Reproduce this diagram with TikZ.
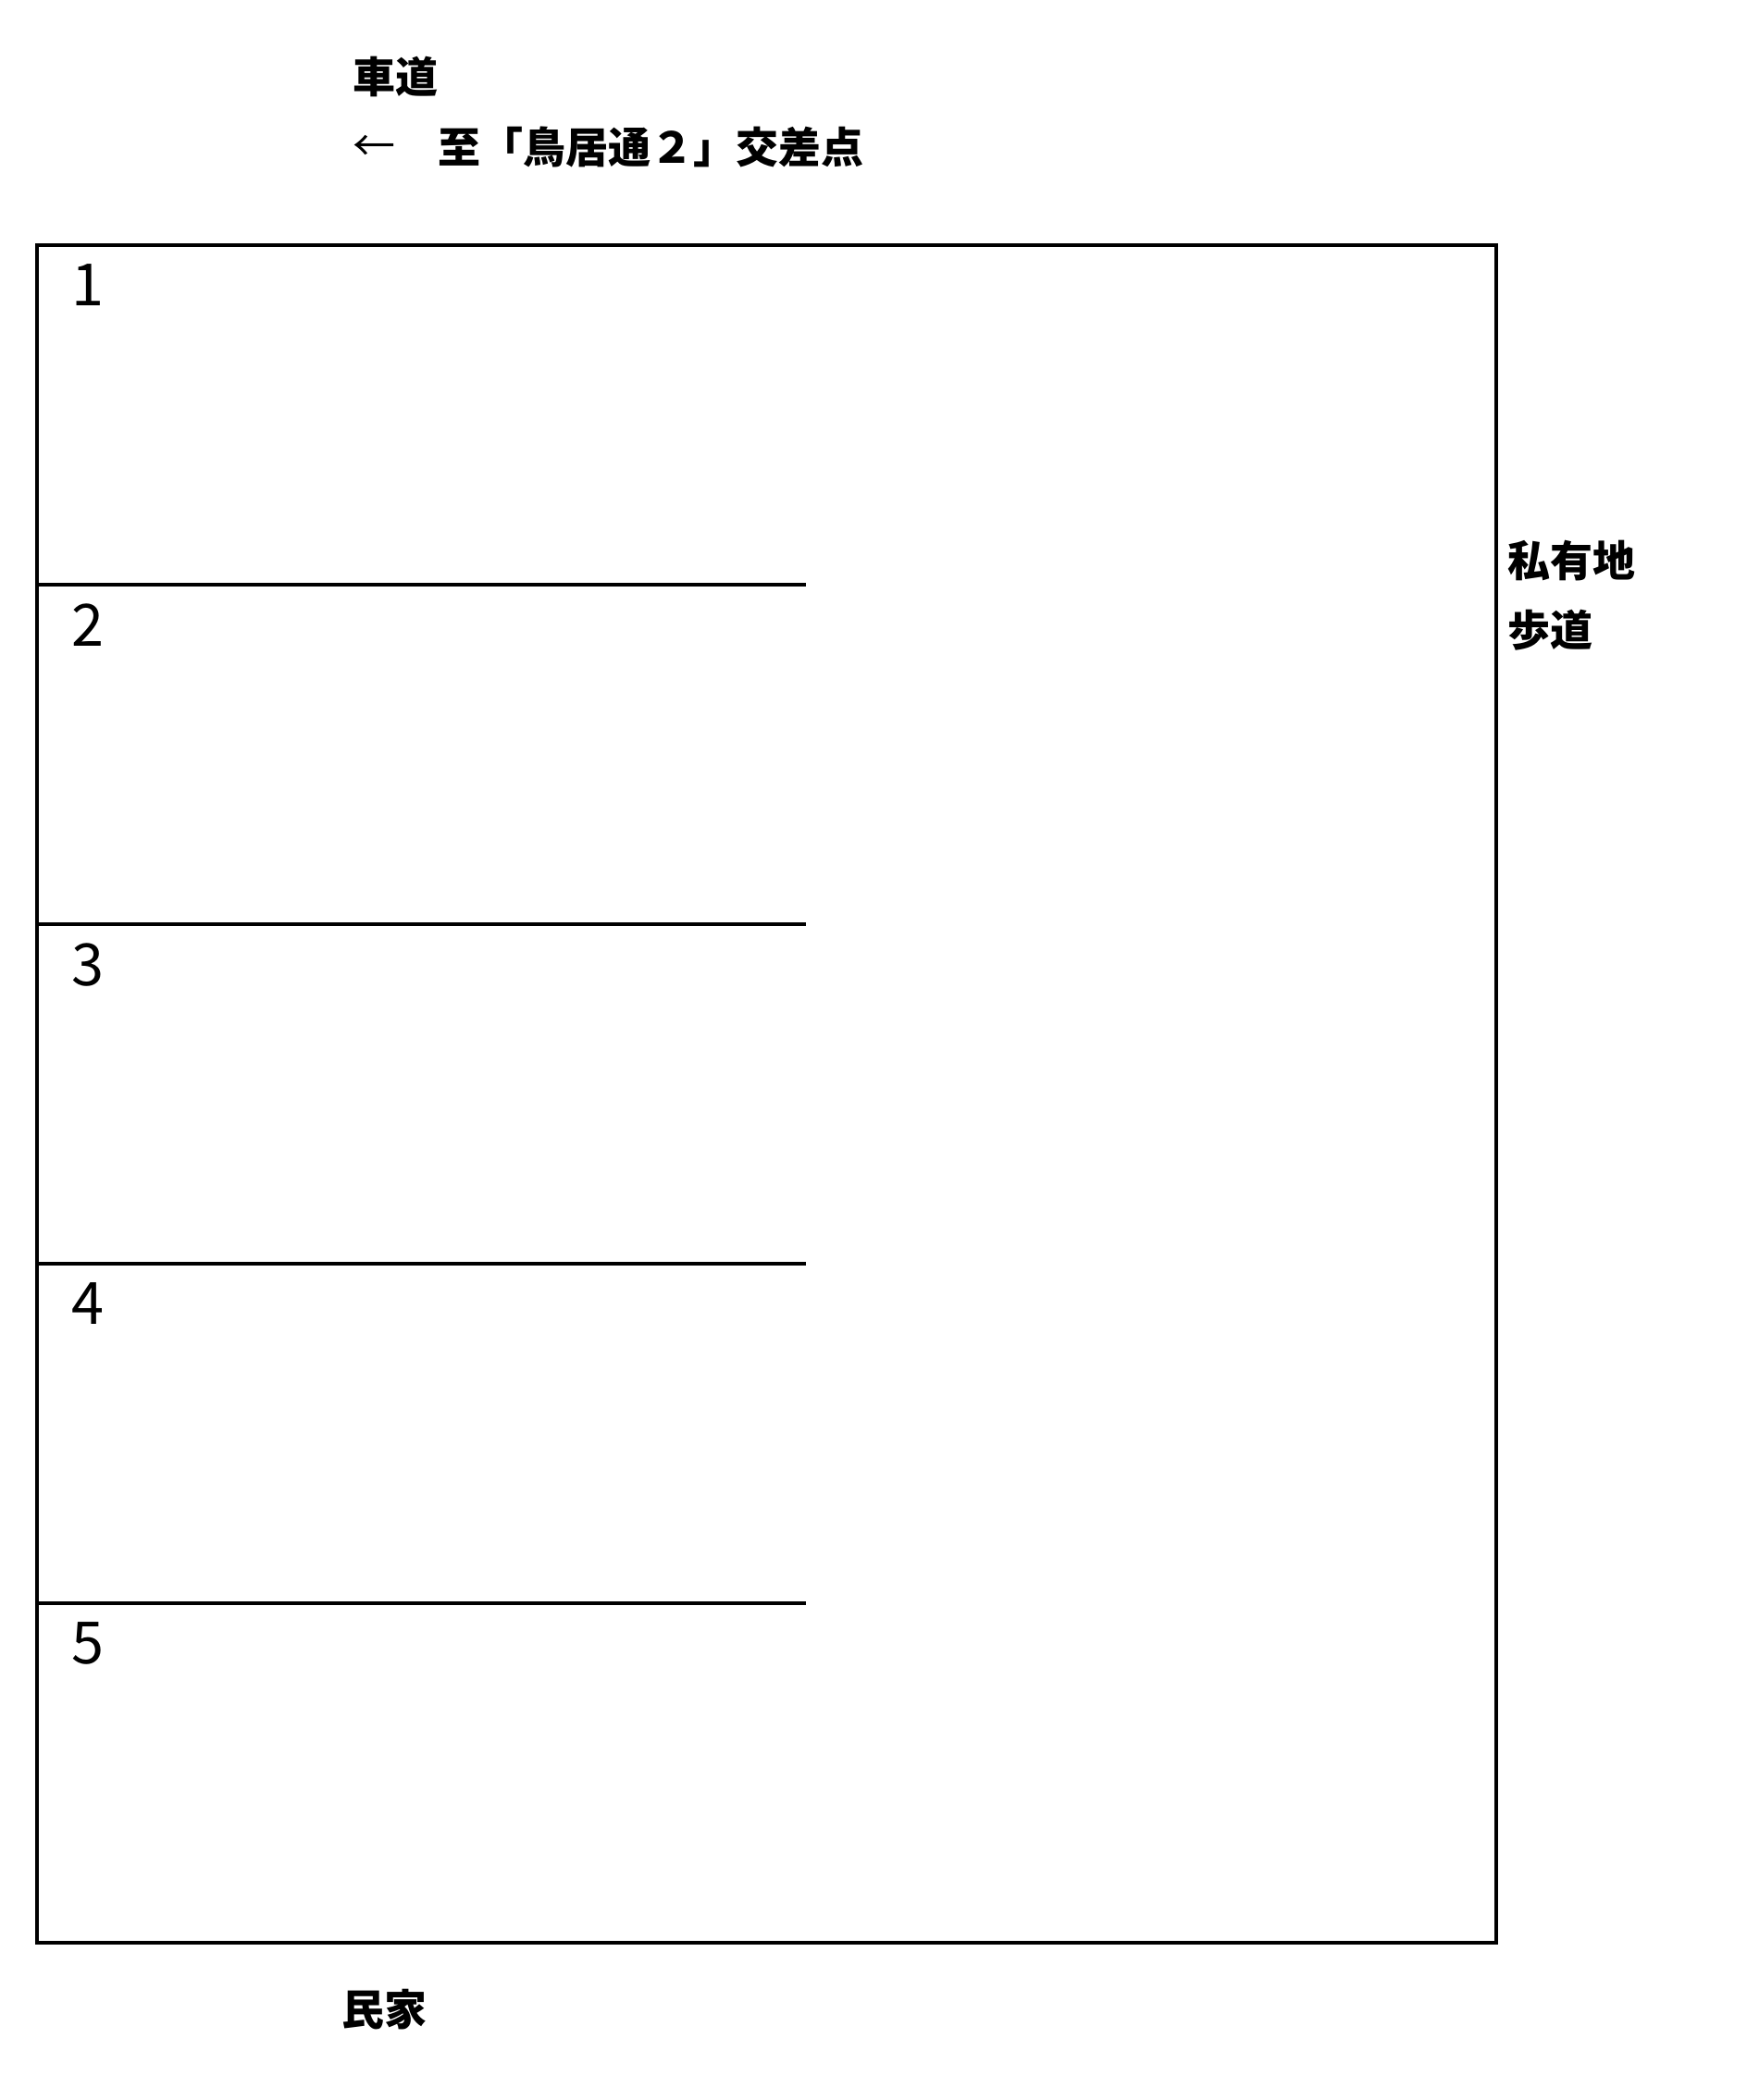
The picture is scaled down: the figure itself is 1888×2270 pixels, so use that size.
\documentclass[tikz,border=0pt]{standalone}
\usepackage{fontspec}
\setmainfont{Noto Sans CJK JP}

\begin{document}
\begin{tikzpicture}[x=0.5pt, y=-0.5pt, line width=1.75pt]

\tikzstyle{every node}=[inner sep=0pt, font=\fontsize{23}{23}\selectfont\bfseries]
\tikzstyle{lotnum}=[anchor=north west, font=\fontsize{31.5}{31.5}\selectfont]

\useasboundingbox (0,0) rectangle (1888,2270);

\draw (40,265) rectangle (1617,2100);
\foreach \k in {1,...,4}
  \draw (40,{265+367*\k}) -- (871,{265+367*\k});

\foreach \k in {1,...,5}
  \node[lotnum] (n\k) at (76,{284+367*(\k-1)}) {\k};

\node[anchor=west] (road) at (380,83) {車道};
\node[anchor=west, font=\fontsize{23}{23}\selectfont] (arrow) at (380,160) {←};
\node[anchor=west] (dest) at (472,159) {至「鳥居通２」交差点};
\node[anchor=west] (private) at (1628,606) {私有地};
\node[anchor=west] (walk) at (1628,681) {歩道};
\node[anchor=west] (house) at (368,2172) {民家};

\end{tikzpicture}
\end{document}
